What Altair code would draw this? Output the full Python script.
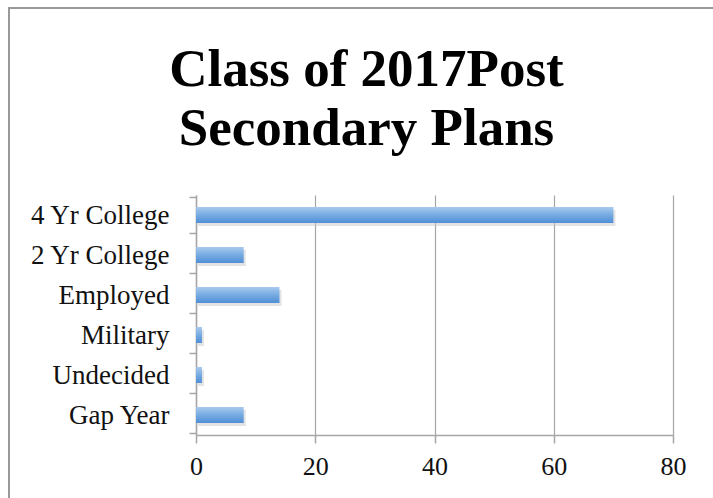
import altair as alt
import pandas as pd

categories = ["4 Yr College", "2 Yr College", "Employed", "Military", "Undecided", "Gap Year"]
values = [70, 8, 14, 1, 1, 8]
x_ticks = [0, 20, 40, 60, 80]

df = pd.DataFrame({"plan": categories, "count": values})

FONT = "Liberation Serif"
GRAY = "#a6a6a6"

bar_grad = alt.Gradient(
    gradient="linear",
    x1=0, x2=0, y1=0, y2=1,
    stops=[
        alt.GradientStop(offset=0, color="#a9c9ee"),
        alt.GradientStop(offset=0.45, color="#7aaee3"),
        alt.GradientStop(offset=1, color="#4f8ed6"),
    ],
)

x_enc = alt.X(
    "count:Q",
    scale=alt.Scale(domain=[0, 80], nice=False),
    axis=alt.Axis(
        values=x_ticks, title=None, grid=True, gridColor=GRAY, gridWidth=1.2,
        domainColor=GRAY, domainWidth=1.5, tickColor=GRAY, tickSize=8, tickWidth=1.5,
        labelFont=FONT, labelFontSize=26, labelColor="#111111", labelPadding=10,
        labelFlush=False, labelOverlap=False,
    ),
)
y_enc = alt.Y(
    "plan:N",
    sort=categories,
    axis=alt.Axis(
        title=None, tickBand="extent", domainColor=GRAY, domainWidth=1.5,
        tickColor=GRAY, tickSize=7, tickWidth=1.5,
        labelFont=FONT, labelFontSize=27, labelColor="#111111", labelPadding=20,
    ),
)

frame = alt.Chart(alt.Data(values=[{"a": 1}])).mark_rect(
    fill=None, stroke="#999999", strokeWidth=2
).encode(
    x=alt.value(-187), x2=alt.value(540), y=alt.value(-187), y2=alt.value(340)
)

shadow = alt.Chart(df).mark_bar(size=16, color="#c8c8c8", opacity=0.5, yOffset=3, xOffset=2).encode(
    x=x_enc, y=y_enc
)

bars = alt.Chart(df).mark_bar(size=16, color=bar_grad).encode(x=x_enc, y=y_enc)

chart = alt.layer(frame, shadow, bars).properties(
    width=477,
    height=240,
    padding={"left": 196, "top": 195, "right": 40, "bottom": 63},
    autosize=alt.AutoSizeParams(type="none"),
    title=alt.TitleParams(
        text=["Class of 2017Post", "Secondary Plans"],
        font=FONT, fontSize=53, fontWeight="bold", color="#000000",
        anchor="middle", frame="group", dx=-68, lineHeight=59, offset=-149,
    ),
).configure_view(stroke=None)

chart.save("out.html", embed_options={"renderer": "svg", "actions": False})
